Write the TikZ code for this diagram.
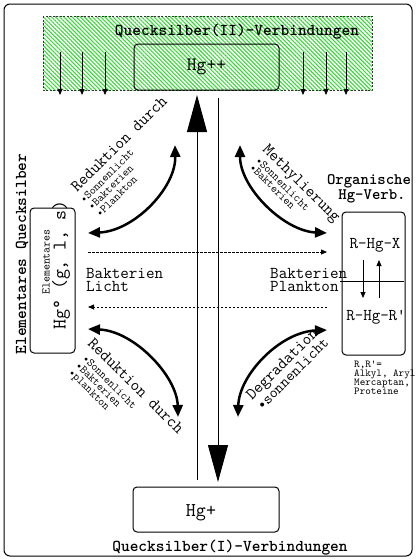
\documentclass[tikz,border=0pt]{standalone}
\usepackage{fontspec}
\usetikzlibrary{arrows.meta,patterns.meta}
\definecolor{hatchgreen}{RGB}{60,215,60}
\newcommand\fsz[1]{\fontsize{#1}{#1}\selectfont}
\begin{document}
\begin{tikzpicture}[x=1pt,y=-1pt,
  every node/.style={inner sep=0pt, font=\ttfamily},
  ttl/.style={font=\ttfamily\bfseries\fsz{16.6}},
  lbl/.style={font=\ttfamily\fsz{16.6}},
  sub/.style={font=\ttfamily\fsz{11.5}},
  tiny/.style={font=\ttfamily\fsz{10.6}},
  box/.style={draw, rounded corners=4pt, line width=1pt},
  curved/.style={line width=2.5pt, {Triangle[length=12pt,width=10pt]}-{Triangle[length=12pt,width=10pt]}},
  bigarr/.style={line width=1pt, -{Triangle[length=37pt,width=20pt]}},
  dasharr/.style={dash pattern=on 2.5pt off 1.5pt, line width=0.8pt, -{Triangle[length=6pt,width=5pt]}},
  drip/.style={line width=0.8pt, -{Triangle[length=6pt,width=5pt]}},
  smallarr/.style={line width=0.8pt, -{Triangle[length=6pt,width=5pt]}}
]
\useasboundingbox (0,0) rectangle (416,560);
% frame
\draw[rounded corners=6pt, line width=1pt] (4,4) rectangle (412,556);
% green hatched area
\path[pattern={Lines[angle=-45,distance=2.9pt,line width=1.1pt]}, pattern color=hatchgreen] (43,16) rectangle (372,90);
\draw[dash pattern=on 2pt off 1.5pt, line width=0.8pt, draw=black!80] (43,16) rectangle (372,90);
\node[ttl, anchor=base] (t2) at (237,35) {Quecksilber(II)-Verbindungen};
\node[box, minimum width=145pt, minimum height=46pt, font=\ttfamily\fsz{19}] (hgpp) at (206.5,67) {Hg++};
% drips
\foreach \x [count=\i] in {60,82,105,303,326,346}{
  \coordinate (ds\i) at (\x,52);
  \coordinate (de\i) at (\x,95);
  \draw[drip] (ds\i) -- (de\i);
}
% Hg+ box
\node[box, minimum width=146pt, minimum height=45pt] (hgp) at (206,509.5) {};
\node[font=\ttfamily\fsz{19.5}, anchor=base] (hgptxt) at (201,516) {Hg+};
\node[ttl, anchor=base] (t1) at (230,551) {Quecksilber(I)-Verbindungen};
% big arrows
\coordinate (upS) at (197,480);
\coordinate (upE) at (197,95);
\coordinate (dnS) at (218,98);
\coordinate (dnE) at (218,482);
\draw[bigarr] (upS) -- (upE);
\draw[bigarr] (dnS) -- (dnE);
% left box
\node[ttl, rotate=90] (lt) at (22,254) {Elementares Quecksilber};
\node[box, minimum width=45pt, minimum height=145pt] (lbox) at (52.5,280.5) {};
\node[font=\ttfamily\fsz{11.6}, rotate=90] (lb1) at (46,262) {Elementares};
\node[font=\ttfamily\fsz{19.4}, rotate=90] (lb2) at (61,265) {Hg° (g, l, s)};
% right box
\node[font=\ttfamily\bfseries\fsz{16}, anchor=base] (rt1) at (369,184) {Organische};
\node[font=\ttfamily\bfseries\fsz{16}, anchor=base] (rt2) at (372,199) {Hg-Verb.};
\node[box, minimum width=63pt, minimum height=143pt] (rbox) at (373.5,283.5) {};
\draw[line width=1pt] (340,281) -- (404,281);
\node[font=\ttfamily\fsz{16.5}, anchor=base] (rx) at (375,248) {R-Hg-X};
\node[font=\ttfamily\fsz{16.5}, anchor=base] (rr) at (376,320) {R-Hg-R'};
\coordinate (ia1) at (363,260); \coordinate (ia2) at (363,298);
\coordinate (ib1) at (379,298); \coordinate (ib2) at (379,260);
\draw[smallarr] (ia1) -- (ia2);
\draw[smallarr] (ib1) -- (ib2);
\node[tiny, anchor=base west] (s1) at (354,367) {R,R'=};
\node[tiny, anchor=base west] (s2) at (354,376) {Alkyl, Aryl};
\node[tiny, anchor=base west] (s3) at (354,385) {Mercaptan,};
\node[tiny, anchor=base west] (s4) at (354,394) {Proteine};
% dashed arrows
\coordinate (d1s) at (88,252); \coordinate (d1e) at (327,252);
\coordinate (d2s) at (327,307); \coordinate (d2e) at (88,307);
\draw[dasharr] (d1s) -- (d1e);
\draw[dasharr] (d2s) -- (d2e);
\node[lbl, anchor=base west] (bl1) at (86,278) {Bakterien};
\node[lbl, anchor=base west] (bl2) at (86,291) {Licht};
\node[lbl, anchor=base west] (br1) at (270,278) {Bakterien};
\node[lbl, anchor=base west] (br2) at (270,291) {Plankton};
% curved arrows
\coordinate (ulA) at (88,233); \coordinate (ulB) at (175,145);
\coordinate (urA) at (240,145); \coordinate (urB) at (327,233);
\coordinate (llA) at (88,329); \coordinate (llB) at (178,417);
\coordinate (lrA) at (327,330); \coordinate (lrB) at (238,417);
\draw[curved] (ulA) .. controls (134,231) and (176,188) .. (ulB);
\draw[curved] (urA) .. controls (240,188) and (284,231) .. (urB);
\draw[curved] (llA) .. controls (134,331) and (177,376) .. (llB);
\draw[curved] (lrA) .. controls (280,332) and (239,375) .. (lrB);
% labels upper left
\node[lbl, rotate=45, anchor=base west] (ul1) at (77,193) {Reduktion durch};
\node[sub, rotate=45, anchor=base west] (ul2) at (84,204) {•Sonnenlicht};
\node[sub, rotate=45, anchor=base west] (ul3) at (92,211) {•Bakterien};
\node[sub, rotate=45, anchor=base west] (ul4) at (100,218) {•Plankton};
% upper right
\node[lbl, rotate=-45, anchor=base west] (ur1) at (262,150) {Methylierung};
\node[sub, rotate=-45, anchor=base west] (ur2) at (255,161) {•Sonnenlicht};
\node[sub, rotate=-45, anchor=base west] (ur3) at (249,168) {•Bakterien};
% lower left
\node[lbl, rotate=-45, anchor=base west] (ll1) at (87,344) {Reduktion durch};
\node[sub, rotate=-45, anchor=base west] (ll2) at (82,359) {•Sonnenlicht};
\node[sub, rotate=-45, anchor=base west] (ll3) at (75,366) {•Bakterien};
\node[sub, rotate=-45, anchor=base west] (ll4) at (68,373) {•plankton};
% lower right
\node[lbl, rotate=45, anchor=base west] (lr1) at (252,401) {Degradation};
\node[font=\ttfamily\fsz{15.4}, rotate=45, anchor=base west] (lr2) at (262,411) {•sonnenlicht};
\end{tikzpicture}
\end{document}
